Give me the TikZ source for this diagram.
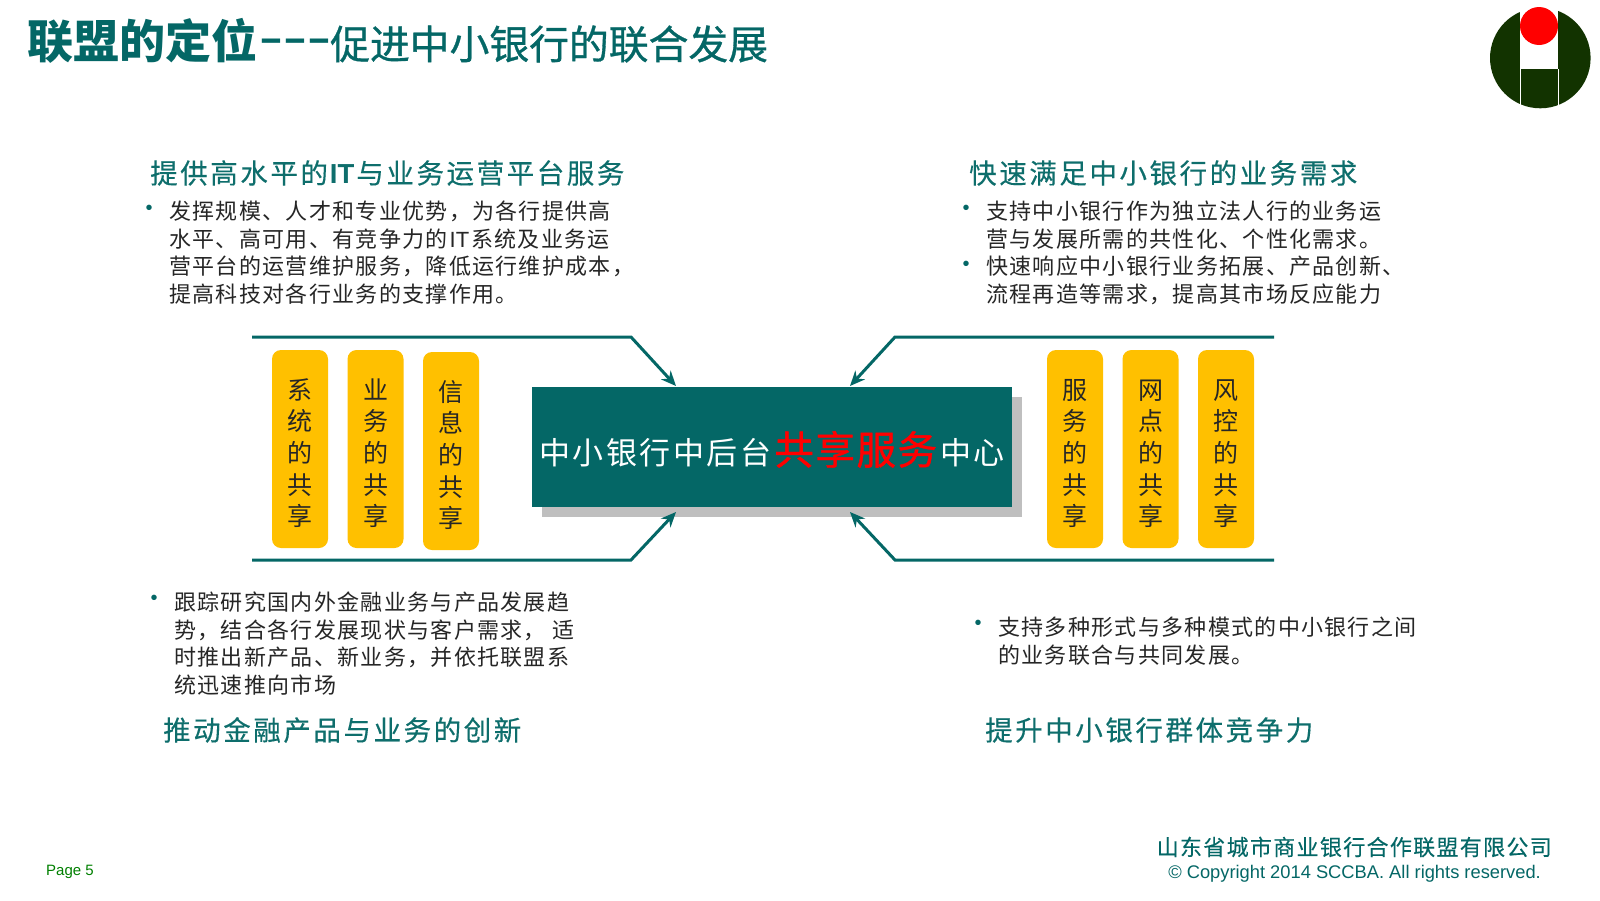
\documentclass[tikz,border=0pt]{standalone}
\usepackage{fontspec}
\usepackage{graphicx}
\usetikzlibrary{arrows.meta}
\setmainfont{Noto Sans CJK SC}
\newfontfamily\latinf{Liberation Sans}
\newfontfamily\lsfont[LetterSpace=9.3,FakeBold=0.3]{Noto Sans CJK SC}
\newfontfamily\centrefont[LetterSpace=8]{Noto Sans CJK SC}
\newfontfamily\centrebold[LetterSpace=4,FakeBold=1]{Noto Sans CJK SC}
\newfontfamily\bodyfont[LetterSpace=6]{Noto Sans CJK SC}
\newfontfamily\footfont[LetterSpace=6,FakeBold=0.2]{Noto Sans CJK SC}
\newfontfamily\subtitlefont[FakeBold=0.8]{Noto Sans CJK SC}
\newcommand\boxlead{\rule{0pt}{29pt}}
\definecolor{teal}{HTML}{046766}
\definecolor{headc}{HTML}{0E6E6C}
\definecolor{ink}{HTML}{262626}
\definecolor{boxc}{HTML}{FFC000}
\tikzset{
  x=1pt,y=-1pt,
  heading/.style={anchor=west,inner sep=0,text=headc,font=\fontsize{27.5}{30}\selectfont\lsfont},
  bodytext/.style={anchor=north west,inner sep=0,align=left,text=ink,font=\fontsize{22}{27.55}\selectfont\bodyfont},
  bulletmark/.style={inner sep=0,text=teal,font=\fontsize{20}{20}\selectfont\latinf},
  sharebox/.style={rectangle,rounded corners=9pt,fill=boxc,minimum width=56pt,minimum height=198pt,inner sep=0,align=center,text=ink,font=\fontsize{25}{31.7}\selectfont},
  conn/.style={draw=teal,line width=3pt},
  connar/.style={conn,-{Stealth[length=15pt,width=13pt]}},
}
\begin{document}
\begin{tikzpicture}
\useasboundingbox (0,0) rectangle (1600,900);
% logo
\begin{scope}
\fill[white] (0,0) rectangle (1600,900);
\fill[fill={rgb,255:red,18;green,51;blue,0}] (1540.3,58) circle[radius=50.3];
\fill[white] (1520,0) rectangle (1558,69);
\draw[white,line width=1pt] (1520,69) -- (1520,110) (1558,69) -- (1558,110);
\fill[red] (1539,26) circle[radius=19];
\end{scope}
% title
\node[anchor=west,inner sep=0,text=teal,font=\fontsize{46}{50}\selectfont\bfseries] (t1) at (27,41) {联盟的定位};
\node[anchor=west,inner sep=0,text=teal,font=\fontsize{36}{40}\selectfont\latinf\bfseries] (t2) at (259,45) {\scalebox{2}[1]{---}};
\node[anchor=west,inner sep=0,text=teal,font=\fontsize{39.8}{42}\selectfont\subtitlefont] (t3) at (330,44) {促进中小银行的联合发展};
% headings
\node[heading] (h1) at (150,173) {提供高水平的\kern2pt{\latinf\bfseries IT}\kern2pt 与业务运营平台服务};
\node[heading] (h2) at (969,173) {快速满足中小银行的业务需求};
\node[heading] (h3) at (163,730) {推动金融产品与业务的创新};
\node[heading] (h4) at (985,730) {提升中小银行群体竞争力};
% body
\node[bulletmark] (b1) at (149,210) {•};
\node[bodytext] (tx1) at (169,201) {发挥规模、人才和专业优势，为各行提供高\\水平、高可用、有竞争力的\kern2pt{\latinf IT}\kern2pt 系统及业务运\\营平台的运营维护服务，降低运行维护成本，\\提高科技对各行业务的支撑作用。};
\node[bulletmark] (b2) at (966,210) {•};
\node[bulletmark] (b3) at (966,266) {•};
\node[bodytext] (tx2) at (986,201) {支持中小银行作为独立法人行的业务运\\营与发展所需的共性化、个性化需求。\\快速响应中小银行业务拓展、产品创新、\\流程再造等需求，提高其市场反应能力};
\node[bulletmark] (b4) at (154,600) {•};
\node[bodytext] (tx3) at (174,592) {跟踪研究国内外金融业务与产品发展趋\\势，结合各行发展现状与客户需求， 适\\时推出新产品、新业务，并依托联盟系\\统迅速推向市场};
\node[bulletmark] (b5) at (978,625) {•};
\node[bodytext] (tx4) at (998,617) {支持多种形式与多种模式的中小银行之间\\的业务联合与共同发展。};
% centre
\node[rectangle,fill={rgb,255:red,191;green,191;blue,191},minimum width=480pt,minimum height=120pt,inner sep=0] (shadow) at (782,457) {};
\node[rectangle,fill=teal,minimum width=480pt,minimum height=120pt,inner sep=0,text=white,text height=40pt,text depth=5pt,font=\fontsize{31}{36}\selectfont\centrefont] (centre) at (772,447) {中小银行中后台\kern3pt{\fontsize{39.5}{40}\selectfont\centrebold\color{red}共享服务}\kern3pt 中心};
% share boxes
\node[sharebox] (s1) at (300,449) {\boxlead 系\\统\\的\\共\\享};
\node[sharebox] (s2) at (375.5,449) {\boxlead 业\\务\\的\\共\\享};
\node[sharebox] (s3) at (451,451) {\boxlead 信\\息\\的\\共\\享};
\node[sharebox] (s4) at (1075,449) {\boxlead 服\\务\\的\\共\\享};
\node[sharebox] (s5) at (1150.5,449) {\boxlead 网\\点\\的\\共\\享};
\node[sharebox] (s6) at (1226,449) {\boxlead 风\\控\\的\\共\\享};
% connectors
\coordinate (tl) at (252,337); \coordinate (tlb) at (631,337); \coordinate (tle) at (676,386);
\coordinate (bl) at (252,560); \coordinate (blb) at (631,560); \coordinate (ble) at (676,512);
\coordinate (tr) at (1274,337); \coordinate (trb) at (895,337); \coordinate (tre) at (850,386);
\coordinate (br) at (1274,560); \coordinate (brb) at (895,560); \coordinate (bre) at (850,512);
\draw[connar] (tl) -- (tlb) -- (tle);
\draw[connar] (bl) -- (blb) -- (ble);
\draw[connar] (tr) -- (trb) -- (tre);
\draw[connar] (br) -- (brb) -- (bre);
% footer
\node[anchor=west,inner sep=0,text=green!50!black,font=\fontsize{15}{16}\selectfont\latinf] (page) at (46,872) {Page 5};
\node[anchor=east,inner sep=0,text=teal,font=\fontsize{22}{24}\selectfont\footfont] (f1) at (1552,847) {山东省城市商业银行合作联盟有限公司};
\node[anchor=east,inner sep=0,text=teal,font=\fontsize{18.3}{20}\selectfont\latinf] (f2) at (1541,874) {© Copyright 2014 SCCBA. All rights reserved.};
\end{tikzpicture}
\end{document}
